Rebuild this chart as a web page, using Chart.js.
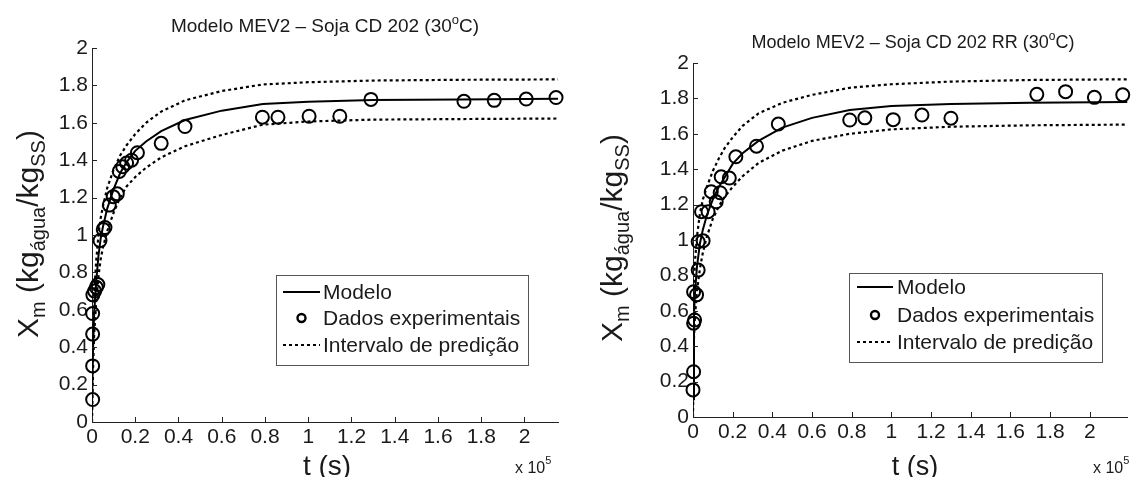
<!DOCTYPE html>
<html><head><meta charset="utf-8">
<script src="https://cdn.jsdelivr.net/npm/chart.js@4.4.0/dist/chart.umd.min.js"></script>
<style>
html,body{margin:0;padding:0;background:#fff;}
#wrap{position:relative;width:1136px;height:477px;overflow:hidden;background:#fff;}
canvas{position:absolute;top:0;}
#c1{left:0;} #c2{left:568px;}
</style></head><body>
<div id="wrap"><canvas id="c1" width="568" height="477"></canvas><canvas id="c2" width="568" height="477"></canvas></div>
<script>
// ---------- DATA (t in units of 10^5 s) ----------
const xTicks = [0, 0.2, 0.4, 0.6, 0.8, 1, 1.2, 1.4, 1.6, 1.8, 2];
const xTickLabels = ['0','0.2','0.4','0.6','0.8','1','1.2','1.4','1.6','1.8','2'];
const yTicks = [0, 0.2, 0.4, 0.6, 0.8, 1, 1.2, 1.4, 1.6, 1.8, 2];
const yTickLabels = ['0','0.2','0.4','0.6','0.8','1','1.2','1.4','1.6','1.8','2'];

// Left: Soja CD 202
const expT_L = [0.003,0.003,0.003,0.003,0.004,0.012,0.02,0.027,0.037,0.052,0.06,0.08,0.098,0.117,0.126,0.142,0.16,0.183,0.21,0.32,0.43,0.788,0.86,1.004,1.146,1.29,1.72,1.86,2.008,2.146];
const expX_L = [0.12,0.30,0.47,0.58,0.68,0.70,0.72,0.735,0.97,1.03,1.04,1.16,1.205,1.22,1.34,1.365,1.385,1.40,1.44,1.49,1.58,1.63,1.63,1.635,1.635,1.725,1.715,1.72,1.727,1.735];
const modT_L = [0,0.005,0.01,0.02,0.03,0.04,0.05,0.07,0.1,0.13,0.16,0.2,0.25,0.32,0.43,0.6,0.79,1.0,1.3,1.7,2.155];
const model_L = [0.08,0.40,0.58,0.76,0.89,0.98,1.04,1.14,1.245,1.33,1.39,1.45,1.50,1.555,1.615,1.665,1.70,1.712,1.722,1.725,1.728];
const upper_L = [0.19,0.51,0.69,0.87,1.00,1.09,1.15,1.25,1.35,1.425,1.48,1.54,1.60,1.66,1.72,1.77,1.805,1.817,1.826,1.83,1.832];
const lower_L = [0.0,0.29,0.47,0.65,0.78,0.87,0.93,1.02,1.12,1.20,1.26,1.31,1.36,1.415,1.475,1.535,1.59,1.607,1.617,1.62,1.623];

// Right: Soja CD 202 RR
const expT_R = [0.0,0.003,0.003,0.003,0.008,0.018,0.026,0.026,0.043,0.051,0.076,0.092,0.117,0.137,0.142,0.183,0.216,0.32,0.43,0.79,0.866,1.009,1.154,1.30,1.733,1.878,2.023,2.166];
const expX_R = [0.153,0.256,0.53,0.708,0.548,0.69,0.83,0.99,1.16,0.996,1.16,1.273,1.216,1.267,1.357,1.35,1.47,1.53,1.655,1.678,1.69,1.68,1.706,1.688,1.823,1.838,1.806,1.82];
const modT_R = [0,0.005,0.01,0.02,0.035,0.05,0.07,0.1,0.13,0.16,0.2,0.25,0.33,0.45,0.6,0.79,1.0,1.3,1.7,2.19];
const model_R = [0.1,0.58,0.70,0.85,0.98,1.06,1.14,1.23,1.30,1.355,1.43,1.49,1.56,1.635,1.69,1.735,1.757,1.768,1.776,1.78];
const upper_R = [0.25,0.75,0.88,1.02,1.15,1.23,1.30,1.39,1.46,1.52,1.58,1.645,1.715,1.775,1.82,1.86,1.88,1.895,1.904,1.908];
const lower_R = [0.0,0.45,0.57,0.71,0.84,0.93,1.02,1.12,1.19,1.245,1.30,1.36,1.435,1.505,1.56,1.60,1.625,1.64,1.648,1.652];

const legendLabels = ['Modelo', 'Dados experimentais', 'Intervalo de predição'];

// ---------- helpers ----------
const FONT = '"Liberation Sans", Arial, Helvetica, sans-serif';
const TXT = '#1a1a1a';
function pts(xs, ys){ return xs.map((x,i)=>({x:x, y:ys[i]})); }
function drawRich(ctx, segs, x, y, align){
  let total = 0;
  segs.forEach(s=>{ ctx.font = s.s+'px '+FONT; s.w = ctx.measureText(s.t).width; total += s.w; });
  let cx = align==='center' ? x - total/2 : x;
  ctx.textAlign = 'left'; ctx.textBaseline = 'alphabetic';
  segs.forEach(s=>{ ctx.font = s.s+'px '+FONT; ctx.fillText(s.t, cx, y + (s.dy||0)); cx += s.w; });
}

const decorPlugin = {
  id: 'decor',
  afterDraw(chart){
    const o = chart.options.plugins.decor;
    const ctx = chart.ctx, xs = chart.scales.x, ys = chart.scales.y;
    const ca = chart.chartArea;
    ctx.save();
    // inward ticks
    ctx.strokeStyle = '#222'; ctx.lineWidth = 1;
    xTicks.forEach(v=>{ const p = Math.round(xs.getPixelForValue(v))+0.5; ctx.beginPath(); ctx.moveTo(p, ca.bottom); ctx.lineTo(p, ca.bottom-5); ctx.stroke(); });
    yTicks.forEach(v=>{ const p = Math.round(ys.getPixelForValue(v))+0.5; ctx.beginPath(); ctx.moveTo(ca.left, p); ctx.lineTo(ca.left+5, p); ctx.stroke(); });
    ctx.fillStyle = TXT;
    // title
    drawRich(ctx, o.title, o.titleX, o.titleY, 'center');
    // x label
    drawRich(ctx, [{t:'t (s)', s:o.xlabSize}], o.xlabX, o.xlabY, 'center');
    // exponent
    drawRich(ctx, [{t:'x 10', s:16},{t:'5', s:11, dy:-9}], o.expX, o.expY, 'left');
    // y label
    ctx.save(); ctx.translate(o.ylabX, o.ylabY); ctx.rotate(-Math.PI/2);
    drawRich(ctx, [{t:'X', s:30},{t:'m', s:20, dy:7},{t:' (kg', s:30},{t:'água', s:20, dy:7},{t:'/kg', s:30},{t:'SS', s:20, dy:7},{t:')', s:30}], 0, 0, 'center');
    ctx.restore();
    // legend
    const L = o.legend;
    ctx.fillStyle = '#fff'; ctx.fillRect(L.x0, L.y0, L.x1-L.x0, L.y1-L.y0);
    ctx.strokeStyle = '#555'; ctx.lineWidth = 1;
    ctx.strokeRect(L.x0+0.5, L.y0+0.5, L.x1-L.x0, L.y1-L.y0);
    ctx.strokeStyle = '#000'; ctx.lineWidth = 2;
    ctx.beginPath(); ctx.moveTo(L.s0, L.rows[0]); ctx.lineTo(L.s1, L.rows[0]); ctx.stroke();
    ctx.lineWidth = 2.4;
    ctx.beginPath(); ctx.arc((L.s0+L.s1)/2, L.rows[1], 4, 0, Math.PI*2); ctx.stroke();
    ctx.setLineDash([3,3]); ctx.lineWidth = 2;
    ctx.beginPath(); ctx.moveTo(L.s0, L.rows[2]); ctx.lineTo(L.s1, L.rows[2]); ctx.stroke();
    ctx.setLineDash([]);
    ctx.fillStyle = TXT; ctx.font = '21px '+FONT; ctx.textAlign='left'; ctx.textBaseline='middle';
    legendLabels.forEach((t,i)=>ctx.fillText(t, L.tx, L.rows[i]+1));
    ctx.restore();
  }
};

function makeChart(id, d){
  return new Chart(document.getElementById(id), {
    data: { datasets: [
      { type:'scatter', label: legendLabels[1], data: pts(d.et, d.ex), showLine:false, pointStyle:'circle', pointRadius:6.5, pointBorderWidth:2, pointBorderColor:'#000', pointBackgroundColor:'rgba(0,0,0,0)', clip:false, order:0 },
      { type:'scatter', label: legendLabels[0], data: pts(d.mt, d.model), showLine:true, borderColor:'#000', borderWidth:2, pointRadius:0, tension:0, order:1 },
      { type:'scatter', label: legendLabels[2], data: pts(d.mt, d.upper), showLine:true, borderColor:'#000', borderWidth:2.2, borderDash:[3,3], pointRadius:0, tension:0, order:2 },
      { type:'scatter', label: legendLabels[2], data: pts(d.mt, d.lower), showLine:true, borderColor:'#000', borderWidth:2.2, borderDash:[3,3], pointRadius:0, tension:0, order:3 }
    ]},
    options: {
      responsive:false, animation:false, devicePixelRatio:1,
      layout:{ padding:{ left:0, right:d.padR, top:d.padT, bottom:0 } },
      plugins:{ legend:{display:false}, tooltip:{enabled:false}, decor: d.decor },
      scales:{
        x:{ type:'linear', min:0, max:d.xMax,
            border:{display:true, color:'#222', width:1},
            grid:{display:false, drawTicks:false},
            afterBuildTicks: s=>{ s.ticks = xTicks.map(v=>({value:v})); },
            afterFit: s=>{ s.height = d.xH; },
            ticks:{ autoSkip:false, maxRotation:0, padding:3, color:TXT, font:{family:FONT, size:21},
                    callback:(v)=> xTickLabels[xTicks.indexOf(v)] } },
        y:{ type:'linear', min:0, max:2,
            border:{display:true, color:'#222', width:1},
            grid:{display:false, drawTicks:false},
            afterBuildTicks: s=>{ s.ticks = yTicks.map(v=>({value:v})); },
            afterFit: s=>{ s.width = d.yW; },
            ticks:{ autoSkip:false, padding:4, color:TXT, font:{family:FONT, size:21},
                    callback:(v)=> yTickLabels[yTicks.indexOf(v)] } }
      }
    },
    plugins:[decorPlugin]
  });
}

makeChart('c1', {
  et:expT_L, ex:expX_L, mt:modT_L, model:model_L, upper:upper_L, lower:lower_L,
  xMax:2.155, padR:10, padT:48, xH:55, yW:92,
  decor:{
    title:[{t:'Modelo MEV2 – Soja CD 202 (30', s:19},{t:'o', s:13, dy:-8},{t:'C)', s:19}],
    titleX:325, titleY:32, xlabSize:28, xlabX:327, xlabY:475, expX:515, expY:473,
    ylabX:38, ylabY:234,
    legend:{x0:276, y0:275, x1:528, y1:365, rows:[292,318,345], s0:283, s1:320, tx:323}
  }
});
makeChart('c2', {
  et:expT_R, ex:expX_R, mt:modT_R, model:model_R, upper:upper_R, lower:lower_R,
  xMax:2.19, padR:0, padT:63, xH:60, yW:125,
  decor:{
    title:[{t:'Modelo MEV2 – Soja CD 202 RR (30', s:18},{t:'o', s:12, dy:-8},{t:'C)', s:18}],
    titleX:345, titleY:48, xlabSize:27, xlabX:347, xlabY:475, expX:525, expY:473,
    ylabX:54, ylabY:238,
    legend:{x0:281, y0:273, x1:534, y1:362, rows:[287,315,342], s0:289, s1:325, tx:329}
  }
});
</script>
</body></html>
